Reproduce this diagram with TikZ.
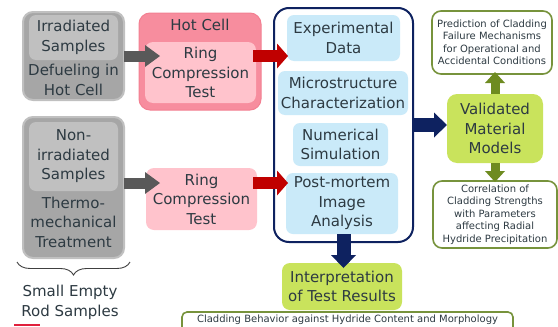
\documentclass[tikz,border=0pt]{standalone}
\usepackage{fontspec}
\setmainfont{DejaVu Sans}
\usetikzlibrary{arrows.meta,calc,decorations.pathreplacing}

\definecolor{txtcol}{RGB}{45,58,66}
\definecolor{grayout}{RGB}{166,166,166}
\definecolor{grayedge}{RGB}{192,192,192}
\definecolor{grayin}{RGB}{192,192,192}
\definecolor{pinkout}{RGB}{247,141,158}
\definecolor{pinkedge}{RGB}{243,128,146}
\definecolor{pinkin}{RGB}{255,195,204}
\definecolor{bluebox}{RGB}{202,234,249}
\definecolor{navy}{RGB}{14,34,96}
\definecolor{darkred}{RGB}{192,0,0}
\definecolor{arrgray}{RGB}{89,89,89}
\definecolor{lime}{RGB}{201,227,92}
\definecolor{olive}{RGB}{110,139,32}
\definecolor{oliveedge}{RGB}{119,147,60}
\definecolor{marker}{RGB}{224,32,60}

\begin{document}
\begin{tikzpicture}[x=1pt,y=-1pt,
  big/.style={font=\fontsize{15}{19.5}\selectfont, text=txtcol, align=center},
  small/.style={font=\fontsize{10}{12.5}\selectfont, text=txtcol, align=center},
  boxbase/.style={rectangle, inner sep=0pt, outer sep=0pt},
  grayouter/.style={boxbase, fill=grayout, draw=grayedge, line width=2pt, rounded corners=10pt},
  grayinner/.style={boxbase, big, fill=grayin, rounded corners=7pt},
  pinkouter/.style={boxbase, fill=pinkout, draw=pinkedge, line width=1pt, rounded corners=11pt},
  pinkinner/.style={boxbase, big, fill=pinkin, rounded corners=8pt},
  bluestep/.style={boxbase, big, fill=bluebox, rounded corners=7pt},
  limebox/.style={boxbase, big, fill=lime, rounded corners=8pt},
  outcome/.style={boxbase, small, fill=white, draw=oliveedge, line width=1.6pt, rounded corners=9pt},
  garrow/.style={draw=arrgray, line width=11pt, -{Triangle[length=15pt,width=22pt,line width=0pt]}},
  rarrow/.style={draw=darkred, line width=12pt, -{Triangle[length=11pt,width=25pt,line width=0pt]}},
  narrow/.style={draw=navy, line width=14pt, -{Triangle[length=13pt,width=25pt,line width=0pt]}},
  oarrow/.style={draw=olive, line width=9pt, -{Triangle[length=11pt,width=20pt,line width=0pt]}}
]
\clip (0,0) rectangle (558,327);
\fill[white] (0,0) rectangle (558,327);

% --- irradiated samples
\node[grayouter, minimum width=101pt, minimum height=88pt] (irrOuter) at (73.5,56) {};
\node[grayinner, minimum width=89pt, minimum height=45pt] (irrInner) at (73.5,37.5) {Irradiated\\Samples};
\node[big] (irrTxt) at (73.5,80) {Defueling in\\Hot Cell};

% --- non-irradiated samples
\node[grayouter, minimum width=101pt, minimum height=141pt] (nonOuter) at (73.5,187.5) {};
\node[grayinner, minimum width=89pt, minimum height=69pt] (nonInner) at (73.5,156.5) {Non-\\irradiated\\Samples};
\node[big] (nonTxt) at (73.5,222) {Thermo-\\mechanical\\Treatment};

% --- brace and caption
\draw[decorate, decoration={brace, mirror, amplitude=13pt}, draw=black!75, line width=0.9pt]
  ([shift={(-6,4)}]nonOuter.south west) -- ([shift={(6,4)}]nonOuter.south east);
\node[big] (rodTxt) at (70,302.5) {Small Empty\\Rod Samples};
\draw[marker, line width=2pt] (14,325) -- (40,325);

% --- hot cell
\node[pinkouter, minimum width=122pt, minimum height=97pt] (hotOuter) at (200,61.5) {};
\node[big] (hotTxt) at (200,25) {Hot Cell};
\node[pinkinner, minimum width=111pt, minimum height=61pt] (hotIn) at (200.5,72.5) {Ring\\Compression\\Test};

\node[pinkinner, minimum width=111pt, minimum height=62pt] (ring2) at (201.5,199) {Ring\\Compression\\Test};

% --- test programme
\node[boxbase, fill=white, draw=navy, line width=2pt, rounded corners=15pt,
      minimum width=139pt, minimum height=234pt] (bigBox) at (343.5,125) {};
\node[bluestep, minimum width=113pt, minimum height=46pt] (expData) at (343.5,38) {Experimental\\Data};
\node[bluestep, minimum width=130pt, minimum height=44pt] (micro) at (343,93) {Microstructure\\Characterization};
\node[bluestep, minimum width=95pt, minimum height=43pt] (numSim) at (340.5,144.5) {Numerical\\Simulation};
\node[bluestep, minimum width=112pt, minimum height=61pt] (post) at (342,203.5) {Post-mortem\\Image\\Analysis};

% --- results
\node[limebox, minimum width=120pt, minimum height=47pt] (interp) at (342,286.5) {Interpretation\\of Test Results};
\node[boxbase, fill=white, draw=oliveedge, line width=1.6pt, rounded corners=5pt,
      minimum width=331pt, minimum height=30pt] (clad) at (347.5,327) {};
\node[small] (cladTxt) at (347.5,320) {Cladding Behavior against Hydride Content and Morphology};

\node[limebox, minimum width=96pt, minimum height=69pt, rounded corners=10pt] (valid) at (495,128.5) {Validated\\Material\\Models};
\node[outcome, minimum width=120pt, minimum height=63pt] (pred) at (492,42.5)
  {Prediction of Cladding\\Failure Mechanisms\\for Operational and\\Accidental Conditions};
\node[outcome, minimum width=124pt, minimum height=67pt] (corr) at (495,214.5)
  {Correlation of\\Cladding Strengths\\with Parameters\\affecting Radial\\Hydride Precipitation};

% --- connectors
\draw[garrow, shorten >=-15pt] (irrOuter.east) -- (irrOuter.east -| hotIn.west);
\coordinate (g2) at ($(nonOuter.east)+(0,-4.5)$);
\draw[garrow, shorten >=-14pt] (g2) -- (g2 -| ring2.west);

\coordinate (r1) at ($(hotIn.east)+(-3,-16.5)$);
\draw[rarrow, shorten >=-1pt] (r1) -- (r1 -| expData.west);
\coordinate (r2) at ($(ring2.east)+(-4,-16)$);
\draw[rarrow, shorten >=-2pt] (r2) -- (r2 -| post.west);

\draw[narrow, shorten <=1pt] (bigBox.east) -- (bigBox.east -| valid.west);
\draw[narrow, shorten <=-8pt, shorten >=-5pt] (bigBox.south) -- (bigBox.south |- interp.north);

\draw[oarrow, shorten >=-2pt] (valid.north) -- (valid.north |- pred.south);
\draw[oarrow, shorten >=-1pt] (valid.south) -- (valid.south |- corr.north);
\end{tikzpicture}
\end{document}
